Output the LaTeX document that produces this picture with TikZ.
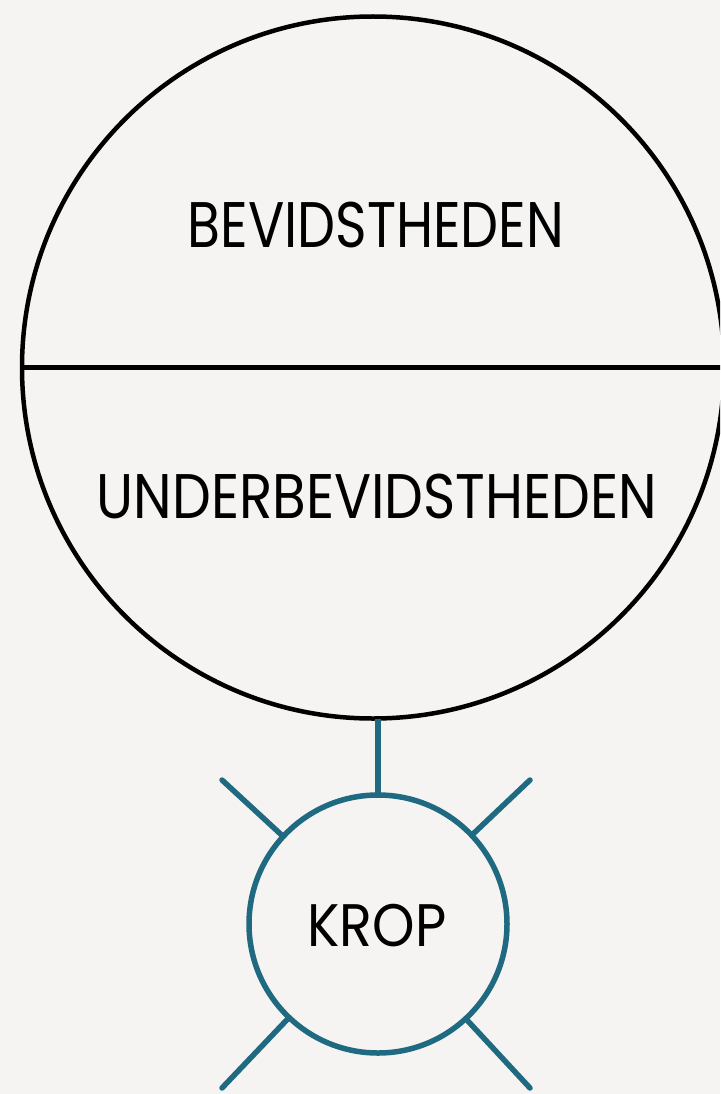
\documentclass[tikz,border=0pt]{standalone}
\usepackage{fontspec}
\usepackage{graphicx}
\setmainfont{Poppins}
\definecolor{bg}{HTML}{F5F4F2}
\definecolor{teal}{HTML}{1F6A80}
\begin{document}
\begin{tikzpicture}[x=1pt,y=-1pt,
  bigc/.style={circle,draw=black,line width=4.5pt,minimum size=702pt,inner sep=0pt,outer sep=0pt},
  smallc/.style={circle,draw=teal,line width=5.5pt,minimum size=258pt,inner sep=0pt,outer sep=0pt},
  tealline/.style={draw=teal,line width=5.5pt},
  lbl/.style={inner sep=0pt}]
\fill[bg] (0,0) rectangle (720,1094);
\useasboundingbox (0,0) rectangle (720,1094);
\begin{scope}
\clip (0,0) rectangle (720,1094);
\node[bigc] (mind) at (373,367.5) {};
\draw[line width=4.5pt] (mind.west) -- (mind.east);
\end{scope}
\node[smallc] (krop) at (378,924) {};
\node[lbl] (bev) at (376,225) {\fontsize{64.4}{64}\selectfont\scalebox{0.834}[1]{BEVIDSTHEDEN}};
\node[lbl] (under) at (377,496) {\fontsize{63}{63}\selectfont\scalebox{0.871}[1]{UNDERBEVIDSTHEDEN}};
\node[lbl] (kroplbl) at (377,926) {\fontsize{60}{60}\selectfont\scalebox{0.9}[1]{KROP}};
\coordinate (ul) at (222,780);
\coordinate (ur) at (530,780);
\coordinate (ll) at (222,1088);
\coordinate (lr) at (530,1088);
\draw[tealline] (krop.north) -- (krop.north |- mind.south);
\draw[tealline,line cap=round] (ul) -- (krop);
\draw[tealline,line cap=round] (ur) -- (krop);
\draw[tealline,line cap=round] (ll) -- (krop);
\draw[tealline,line cap=round] (lr) -- (krop);
\end{tikzpicture}
\end{document}
